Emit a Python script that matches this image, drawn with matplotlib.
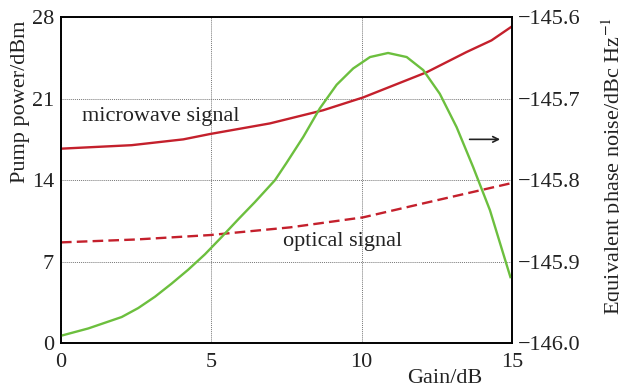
import numpy as np
import matplotlib.pyplot as plt

plt.rcParams['font.family'] = ['Liberation Serif', 'DejaVu Serif']
plt.rcParams['mathtext.fontset'] = 'stix'

# pump power, left axis
gain_mw = [0, 2.35, 4.07, 4.96, 6.95, 8.72, 10.05, 12.16, 13.49, 14.32, 15]
pump_mw = [16.7, 17.0, 17.5, 17.96, 18.87, 20.0, 21.1, 23.26, 25.0, 26.0, 27.2]

gain_opt = [0, 2.5, 4.96, 7.62, 10.05, 12.05, 15]
pump_opt = [8.65, 8.9, 9.28, 9.94, 10.8, 12.0, 13.75]

# phase noise, right axis
gain_pn = [0, 0.91, 2.02, 2.57, 3.13, 3.68, 4.23, 4.79, 5.34, 5.9, 6.45, 7.12,
           7.5, 8.06, 8.61, 9.17, 9.72, 10.28, 10.88, 11.5, 12.05, 12.6, 13.16,
           13.71, 14.27, 14.95]
noise_pn = [-145.991, -145.982, -145.968, -145.957, -145.943, -145.927, -145.910,
            -145.891, -145.870, -145.848, -145.827, -145.800, -145.779, -145.747,
            -145.712, -145.683, -145.663, -145.649, -145.644, -145.649, -145.665,
            -145.694, -145.735, -145.784, -145.837, -145.919]

red = '#c4202c'
green = '#6cbf3e'
ink = '#222222'

fig = plt.figure(figsize=(6.19, 3.89), dpi=100)
ax = fig.add_axes([0.0985, 0.118, 0.7285, 0.838])
ax2 = ax.twinx()

ax.plot(gain_mw, pump_mw, color=red, lw=1.7)
ax.plot(gain_opt, pump_opt, color=red, lw=1.7, ls=(0, (4.5, 2.2)))
ax2.plot(gain_pn, noise_pn, color=green, lw=1.7)

ax.set_xlim(0, 15)
ax.set_ylim(0, 28)
ax2.set_ylim(-146.0, -145.6)
ax.set_xticks([0, 5, 10, 15])
ax.set_yticks([0, 7, 14, 21, 28])
ax2.set_yticks([-146.0, -145.9, -145.8, -145.7, -145.6])
ax2.set_yticklabels(['\u2212146.0', '\u2212145.9', '\u2212145.8', '\u2212145.7', '\u2212145.6'])

ax.grid(True, color='#777777', ls=(0, (1, 1)), lw=0.7)
ax.tick_params(length=0, labelsize=16, colors=ink)
ax.tick_params(axis='x', pad=7)
ax.tick_params(axis='y', pad=5)
ax2.tick_params(length=0, labelsize=16, pad=4.5, colors=ink)
for a in (ax, ax2):
    for s in a.spines.values():
        s.set_linewidth(1.2)

ax.set_ylabel('Pump power/dBm', fontsize=16, loc='top', color=ink)
ax.yaxis.set_label_coords(-0.068, 0.99)
ax2.set_ylabel('Equivalent phase noise/dBc Hz$^{-1}$', fontsize=16, loc='top',
               color=ink, rotation=90)
ax2.yaxis.set_label_coords(1.195, 1.0)
ax.set_xlabel('Gain/dB', fontsize=16, color=ink)
ax.xaxis.set_label_coords(0.85, -0.08)

ax.text(0.69, 19.5, 'microwave signal', fontsize=16, va='center', color=ink)
ax.text(7.4, 8.7, 'optical signal', fontsize=16, va='center', color=ink)
ax.annotate('', xy=(14.7, 17.5), xytext=(13.5, 17.5),
            arrowprops=dict(arrowstyle='->', color=ink, lw=1.2))

fig.savefig('out.png', dpi=100)
